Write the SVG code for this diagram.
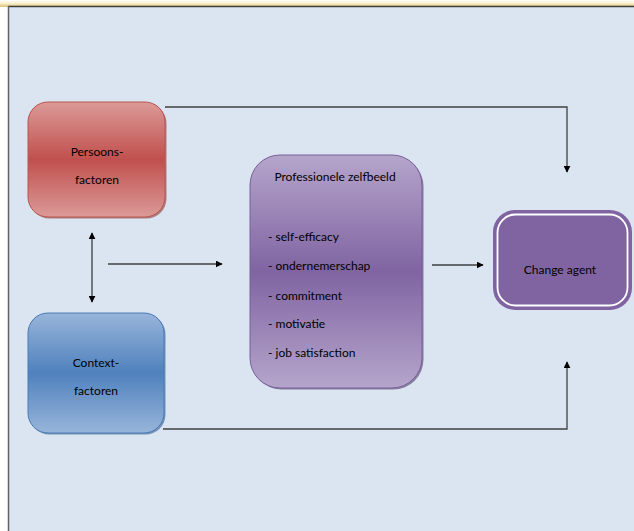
<svg xmlns="http://www.w3.org/2000/svg" width="634" height="531" viewBox="0 0 634 531">
<defs>
<linearGradient id="topStrip" x1="0" y1="0" x2="0" y2="1">
<stop offset="0" stop-color="#ffffff"/>
<stop offset="0.5" stop-color="#f8efc8"/>
<stop offset="1" stop-color="#d8c070"/>
</linearGradient>
<linearGradient id="gRed" x1="0" y1="0" x2="0" y2="1">
<stop offset="0" stop-color="#dc9a98"/>
<stop offset="0.5" stop-color="#c0504d"/>
<stop offset="1" stop-color="#dc9a98"/>
</linearGradient>
<linearGradient id="gBlue" x1="0" y1="0" x2="0" y2="1">
<stop offset="0" stop-color="#98b5da"/>
<stop offset="0.5" stop-color="#4f81bd"/>
<stop offset="1" stop-color="#98b5da"/>
</linearGradient>
<linearGradient id="gPurple" x1="0" y1="0" x2="0" y2="1">
<stop offset="0" stop-color="#b5a5cb"/>
<stop offset="0.5" stop-color="#8064a2"/>
<stop offset="1" stop-color="#b5a5cb"/>
</linearGradient>
<marker id="arr" viewBox="0 0 10 10" refX="9" refY="5" markerWidth="7" markerHeight="7" markerUnits="userSpaceOnUse" orient="auto-start-reverse">
<path d="M0,0 L10,5 L0,10 z" fill="#000"/>
</marker>
<style>
.lbl{font-family:"Lato","Open Sans","Liberation Sans",sans-serif;font-size:12px;fill:#000}
.conn{fill:none;stroke:#404040;stroke-width:1.3}
</style>
</defs>
<rect x="0" y="0" width="634" height="531" fill="#ffffff"/>
<rect x="0" y="0" width="634" height="7" fill="url(#topStrip)"/>
<rect x="8" y="6" width="626" height="525" fill="#dbe5f1"/>
<line x1="8" y1="6.5" x2="634" y2="6.5" stroke="#404040" stroke-width="1.5"/>
<line x1="8.5" y1="6" x2="8.5" y2="531" stroke="#606060" stroke-width="1.5"/>

<g id="connectors">
<polyline class="conn" points="165,107 567,107 567,172" marker-end="url(#arr)"/>
<polyline class="conn" points="163,429 567,429 567,362" marker-end="url(#arr)"/>
<line class="conn" x1="92" y1="233" x2="92" y2="302" marker-start="url(#arr)" marker-end="url(#arr)"/>
<line class="conn" x1="108" y1="264" x2="222" y2="264" marker-end="url(#arr)"/>
<line class="conn" x1="432" y1="265" x2="483" y2="265" marker-end="url(#arr)"/>
</g>

<g id="persoons">
<rect x="29.5" y="103.5" width="137" height="115" rx="20" fill="#8a3a38" opacity="0.6"/>
<rect x="28" y="102" width="137" height="115" rx="20" fill="url(#gRed)" stroke="#b85450" stroke-width="1"/>
<text class="lbl" x="97" y="156" text-anchor="middle">Persoons-</text>
<text class="lbl" x="97" y="184" text-anchor="middle">factoren</text>
</g>

<g id="context">
<rect x="29.5" y="314.5" width="136" height="120" rx="20" fill="#2f5a8c" opacity="0.6"/>
<rect x="28" y="313" width="136" height="120" rx="20" fill="url(#gBlue)" stroke="#4a7ab5" stroke-width="1"/>
<text class="lbl" x="96" y="367" text-anchor="middle">Context-</text>
<text class="lbl" x="96" y="395" text-anchor="middle">factoren</text>
</g>

<g id="zelfbeeld">
<rect x="251.5" y="156.5" width="172" height="233" rx="30" fill="#4f3a6b" opacity="0.6"/>
<rect x="250" y="155" width="172" height="233" rx="30" fill="url(#gPurple)" stroke="#7a5f9c" stroke-width="1"/>
<text class="lbl" x="335" y="181" text-anchor="middle">Professionele zelfbeeld</text>
<text class="lbl" x="268" y="241">- self-efficacy</text>
<text class="lbl" x="268" y="270">- ondernemerschap</text>
<text class="lbl" x="268" y="300">- commitment</text>
<text class="lbl" x="268" y="328">- motivatie</text>
<text class="lbl" x="268" y="357">- job satisfaction</text>
</g>

<g id="change-agent">
<rect x="493" y="210" width="139" height="100" rx="22" fill="#8064a2"/>
<rect x="497.5" y="214.5" width="130" height="91" rx="18" fill="#8064a2" stroke="#ffffff" stroke-width="1.8"/>
<text class="lbl" x="560" y="274" text-anchor="middle">Change agent</text>
</g>
</svg>
